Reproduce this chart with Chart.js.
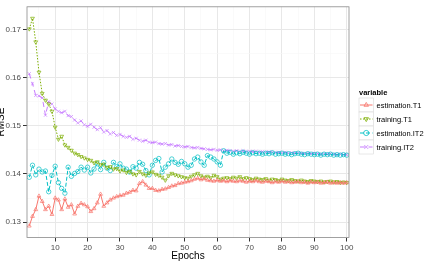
<!DOCTYPE html>
<html>
<head>
<meta charset="utf-8">
<script src="https://cdn.jsdelivr.net/npm/chart.js@4.4.0/dist/chart.umd.min.js"></script>
<style>
  html, body { margin: 0; padding: 0; background: #fff; }
  #wrap { width: 427px; height: 264px; }
</style>
</head>
<body>
<div id="wrap"><canvas id="chart" width="427" height="264"></canvas></div>
<script>
// Epochs on the x axis
const epochs = [
  2, 3, 4, 5, 6, 7, 8, 9, 10, 11, 12, 13, 14, 15, 16, 17, 18, 19, 20,
  21, 22, 23, 24, 25, 26, 27, 28, 29, 30, 31, 32, 33, 34, 35, 36, 37, 38, 39, 40,
  41, 42, 43, 44, 45, 46, 47, 48, 49, 50, 51, 52, 53, 54, 55, 56, 57, 58, 59, 60,
  61, 62, 63, 64, 65, 66, 67, 68, 69, 70, 71, 72, 73, 74, 75, 76, 77, 78, 79, 80,
  81, 82, 83, 84, 85, 86, 87, 88, 89, 90, 91, 92, 93, 94, 95, 96, 97, 98, 99, 100
];

// RMSE values
const estimationT1 = [
  0.1292, 0.1312, 0.1326, 0.1354, 0.1343, 0.1326, 0.1333, 0.1316, 0.1350, 0.1346, 0.1326, 0.1348, 0.1331, 0.1336, 0.1317, 0.1333, 0.1339, 0.1336, 0.1332,
  0.1322, 0.1328, 0.1340, 0.1358, 0.1333, 0.1340, 0.1346, 0.1350, 0.1353, 0.1355, 0.1356, 0.1360, 0.1362, 0.1366, 0.1365, 0.1380, 0.1384, 0.1377, 0.1370, 0.1370,
  0.1366, 0.1365, 0.1368, 0.1369, 0.1372, 0.1375, 0.1376, 0.1380, 0.1381, 0.1383, 0.1384, 0.1386, 0.1389, 0.1391, 0.1388, 0.1390, 0.1387, 0.1386, 0.1385, 0.1387,
  0.1385, 0.1386, 0.1384, 0.1386, 0.1385, 0.1384, 0.1386, 0.1385, 0.1383, 0.1385, 0.1384, 0.1386, 0.1384, 0.1383, 0.1385, 0.1384, 0.1382, 0.1384, 0.1383, 0.1385,
  0.1383, 0.1384, 0.1382, 0.1383, 0.1384, 0.1382, 0.1383, 0.1381, 0.1383, 0.1382, 0.1383, 0.1381, 0.1382, 0.1383, 0.1381, 0.1382, 0.1381, 0.1382, 0.1381, 0.1382
];
const trainingT1 = [
  0.1701, 0.1723, 0.1674, 0.1611, 0.1567, 0.1553, 0.1545, 0.1530, 0.1497, 0.1472, 0.1478, 0.1460, 0.1455, 0.1449, 0.1443, 0.1440, 0.1436, 0.1433, 0.1430,
  0.1428, 0.1423, 0.1425, 0.1419, 0.1420, 0.1413, 0.1415, 0.1410, 0.1411, 0.1406, 0.1408, 0.1403, 0.1405, 0.1400, 0.1398, 0.1405, 0.1400, 0.1397, 0.1402, 0.1404,
  0.1399, 0.1397, 0.1393, 0.1387, 0.1396, 0.1401, 0.1398, 0.1396, 0.1394, 0.1392, 0.1391, 0.1395, 0.1398, 0.1401, 0.1396, 0.1393, 0.1395, 0.1392, 0.1397, 0.1394,
  0.1389, 0.1391, 0.1392, 0.1390, 0.1393, 0.1391, 0.1394, 0.1390, 0.1392, 0.1390, 0.1388, 0.1391, 0.1389, 0.1388, 0.1390, 0.1387, 0.1389, 0.1388, 0.1386, 0.1389,
  0.1387, 0.1386, 0.1388, 0.1386, 0.1385, 0.1387, 0.1385, 0.1384, 0.1386, 0.1385, 0.1384, 0.1385, 0.1383, 0.1384, 0.1385, 0.1383, 0.1384, 0.1382, 0.1383, 0.1382
];
const estimationIT2 = [
  0.1393, 0.1418, 0.1398, 0.1410, 0.1404, 0.1406, 0.1363, 0.1397, 0.1416, 0.1382, 0.1370, 0.1360, 0.1414, 0.1395, 0.1401, 0.1405, 0.1414, 0.1408, 0.1414,
  0.1402, 0.1410, 0.1421, 0.1409, 0.1424, 0.1412, 0.1407, 0.1424, 0.1415, 0.1421, 0.1412, 0.1410, 0.1404, 0.1415, 0.1412, 0.1424, 0.1420, 0.1407, 0.1398, 0.1418,
  0.1428, 0.1432, 0.1404, 0.1414, 0.1421, 0.1431, 0.1424, 0.1420, 0.1426, 0.1421, 0.1414, 0.1418, 0.1431, 0.1435, 0.1425, 0.1418, 0.1438, 0.1435, 0.1431, 0.1425,
  0.1418, 0.1448, 0.1443, 0.1445, 0.1441, 0.1444, 0.1442, 0.1445, 0.1443, 0.1441, 0.1444, 0.1442, 0.1443, 0.1441, 0.1443, 0.1442, 0.1444, 0.1441, 0.1442, 0.1443,
  0.1441, 0.1442, 0.1440, 0.1442, 0.1443, 0.1441, 0.1440, 0.1442, 0.1441, 0.1440, 0.1441, 0.1439, 0.1441, 0.1440, 0.1441, 0.1439, 0.1440, 0.1439, 0.1440, 0.1439
];
const trainingIT2 = [
  0.1608, 0.1587, 0.1563, 0.1562, 0.1558, 0.1522, 0.1550, 0.1545, 0.1535, 0.1530, 0.1527, 0.1530, 0.1521, 0.1519, 0.1512, 0.1506, 0.1510, 0.1502, 0.1499,
  0.1503, 0.1497, 0.1492, 0.1496, 0.1487, 0.1490, 0.1483, 0.1486, 0.1480, 0.1482, 0.1478, 0.1476, 0.1478, 0.1472, 0.1474, 0.1470, 0.1468, 0.1470, 0.1466, 0.1465,
  0.1466, 0.1463, 0.1462, 0.1463, 0.1460, 0.1461, 0.1458, 0.1459, 0.1457, 0.1456, 0.1457, 0.1455, 0.1454, 0.1455, 0.1453, 0.1452, 0.1451, 0.1450, 0.1451, 0.1449,
  0.1450, 0.1448, 0.1449, 0.1448, 0.1447, 0.1448, 0.1447, 0.1448, 0.1446, 0.1447, 0.1446, 0.1447, 0.1445, 0.1446, 0.1445, 0.1446, 0.1445, 0.1444, 0.1445, 0.1444,
  0.1445, 0.1443, 0.1444, 0.1443, 0.1444, 0.1443, 0.1442, 0.1443, 0.1442, 0.1443, 0.1442, 0.1441, 0.1442, 0.1441, 0.1442, 0.1441, 0.1440, 0.1441, 0.1440, 0.1440
];

const seriesNames = ['estimation.T1', 'training.T1', 'estimation.IT2', 'training.IT2'];
const seriesValues = [estimationT1, trainingT1, estimationIT2, trainingIT2];
const seriesColors = ['#F8766D', '#7CAE00', '#00BFC4', '#C77CFF'];
const seriesShapes = ['triangle', 'triangleDown', 'circle', 'crossRot'];
const seriesDashes = [[], [1.5, 1.5], [4, 2], [5, 3.5]];

const FONT = '"Liberation Sans", Arial, Helvetica, sans-serif';

// draw one open marker (used for the legend keys)
function drawMarker(ctx, shape, x, y, r) {
  ctx.beginPath();
  if (shape === 'circle') {
    ctx.arc(x, y, r, 0, Math.PI * 2);
  } else if (shape === 'triangle' || shape === 'triangleDown') {
    const s = shape === 'triangle' ? 1 : -1;
    ctx.moveTo(x, y - s * r);
    ctx.lineTo(x + r * 0.87, y + s * r * 0.5);
    ctx.lineTo(x - r * 0.87, y + s * r * 0.5);
    ctx.closePath();
  } else {
    ctx.moveTo(x - r * 0.75, y - r * 0.75); ctx.lineTo(x + r * 0.75, y + r * 0.75);
    ctx.moveTo(x + r * 0.75, y - r * 0.75); ctx.lineTo(x - r * 0.75, y + r * 0.75);
  }
  ctx.stroke();
}

// panel border, axis titles and the legend, ggplot style
const decorations = {
  id: 'decorations',
  afterDraw(chart) {
    const ctx = chart.ctx;
    const a = chart.chartArea;
    ctx.save();
    ctx.strokeStyle = '#8a8a8a';
    ctx.lineWidth = 0.8;
    ctx.strokeRect(a.left, a.top, a.right - a.left, a.bottom - a.top);

    ctx.fillStyle = '#000';
    ctx.font = '10px ' + FONT;
    ctx.textAlign = 'center';
    ctx.textBaseline = 'alphabetic';
    ctx.fillText('Epochs', (a.left + a.right) / 2, 259);

    ctx.save();
    ctx.translate(3.5, (a.top + a.bottom) / 2);
    ctx.rotate(-Math.PI / 2);
    ctx.fillText('RMSE', 0, 0);
    ctx.restore();

    // legend
    const lx = 359, ly = 98, kw = 14.5, kh = 14;
    ctx.textAlign = 'left';
    ctx.font = 'bold 7.5px ' + FONT;
    ctx.fillText('variable', lx, 95);
    ctx.font = '7.5px ' + FONT;
    ctx.textBaseline = 'middle';
    seriesNames.forEach((name, i) => {
      const y0 = ly + i * kh;
      const cy = y0 + kh / 2;
      ctx.fillStyle = '#fff';
      ctx.fillRect(lx, y0, kw, kh);
      ctx.strokeStyle = '#d0d0d0';
      ctx.lineWidth = 0.5;
      ctx.setLineDash([]);
      ctx.strokeRect(lx, y0, kw, kh);
      ctx.strokeStyle = seriesColors[i];
      ctx.lineWidth = 1;
      ctx.setLineDash(seriesDashes[i]);
      ctx.beginPath();
      ctx.moveTo(lx + 1, cy);
      ctx.lineTo(lx + kw - 1, cy);
      ctx.stroke();
      ctx.setLineDash([]);
      ctx.lineWidth = 0.8;
      drawMarker(ctx, seriesShapes[i], lx + kw / 2, cy, 2.6);
      ctx.fillStyle = '#000';
      ctx.fillText(name, lx + kw + 3, cy + 0.5);
    });
    ctx.restore();
  }
};

const datasets = seriesNames.map((name, i) => ({
  label: name,
  data: epochs.map((e, j) => ({ x: e, y: seriesValues[i][j] })),
  borderColor: seriesColors[i],
  borderWidth: 1,
  borderDash: seriesDashes[i],
  pointStyle: seriesShapes[i] === 'triangleDown' ? 'triangle' : seriesShapes[i],
  pointRotation: seriesShapes[i] === 'triangleDown' ? 180 : 0,
  pointRadius: 2.2,
  pointBorderWidth: 0.7,
  pointBorderColor: seriesColors[i],
  pointBackgroundColor: 'rgba(0,0,0,0)',
  tension: 0
}));

const isMajorX = v => Math.round(v) % 10 === 0;
const isMajorY = v => Math.round(v * 1000) % 10 === 0;

new Chart(document.getElementById('chart'), {
  type: 'line',
  data: { datasets },
  options: {
    responsive: false,
    animation: false,
    devicePixelRatio: 1,
    layout: { padding: { left: 0, top: 4, right: 78, bottom: 0 } },
    plugins: { legend: { display: false }, tooltip: { enabled: false } },
    scales: {
      x: {
        type: 'linear',
        min: 1.3,
        max: 100.7,
        afterFit: s => { s.height = 26.5; },
        border: { display: false },
        grid: {
          color: c => isMajorX(c.tick.value) ? '#e8e8e8' : '#f6f6f6',
          lineWidth: c => isMajorX(c.tick.value) ? 1 : 0.6,
          tickColor: c => isMajorX(c.tick.value) ? '#333' : 'rgba(0,0,0,0)',
          tickLength: 4,
          tickWidth: 1
        },
        ticks: {
          stepSize: 5,
          includeBounds: false,
          autoSkip: false,
          maxRotation: 0,
          padding: 1,
          color: '#4d4d4d',
          font: { family: FONT, size: 8 },
          callback: v => isMajorX(v) ? String(Math.round(v)) : ''
        }
      },
      y: {
        type: 'linear',
        min: 0.1268,
        max: 0.1747,
        afterFit: s => { s.width = 27; },
        border: { display: false },
        grid: {
          color: c => isMajorY(c.tick.value) ? '#e8e8e8' : '#f6f6f6',
          lineWidth: c => isMajorY(c.tick.value) ? 1 : 0.6,
          tickColor: c => isMajorY(c.tick.value) ? '#333' : 'rgba(0,0,0,0)',
          tickLength: 4,
          tickWidth: 1
        },
        ticks: {
          stepSize: 0.005,
          includeBounds: false,
          autoSkip: false,
          padding: 2,
          color: '#4d4d4d',
          font: { family: FONT, size: 8 },
          callback: v => isMajorY(v) ? v.toFixed(2) : ''
        }
      }
    }
  },
  plugins: [decorations]
});
</script>
</body>
</html>
